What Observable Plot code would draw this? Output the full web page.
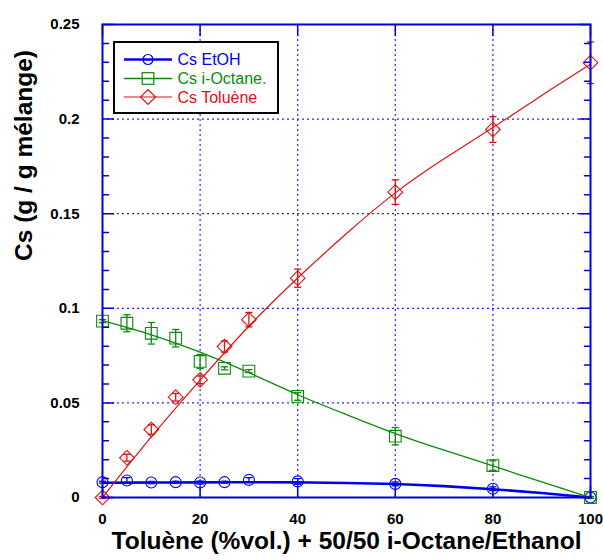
<!DOCTYPE html>
<html><head><meta charset="utf-8">
<script src="https://cdn.jsdelivr.net/npm/d3@7"></script>
<script src="https://cdn.jsdelivr.net/npm/@observablehq/plot@0.6"></script>
<style>
body{margin:0;background:#fff;}
#wrap{position:relative;width:603px;height:560px;font-family:"Liberation Sans",Arial,sans-serif;}
#legend{position:absolute;left:113px;top:41px;}
</style></head><body><div id="wrap"></div>
<script>
// ---- data ----
const xs = [0, 5, 10, 15, 20, 25, 30, 40, 60, 80, 100];
const csEtOH = [0.0081, 0.0090, 0.0079, 0.0081, 0.0079, 0.0081, 0.0093, 0.0085, 0.0072, 0.0046, 0.0];
const csEtOHErr = [0.0005, 0.0015, 0.0006, 0.0005, 0.0008, 0.0005, 0.0012, 0.0015, 0.001, 0.001, 0.0005];
const csOctane = [0.0932, 0.0921, 0.0868, 0.0842, 0.0719, 0.0683, 0.0668, 0.0534, 0.0324, 0.0169, 0.0];
const csOctaneErr = [0.0008, 0.0045, 0.0057, 0.0046, 0.0037, 0.0008, 0.0008, 0.002, 0.0046, 0.0025, 0.0005];
const csToluene = [0.0, 0.021, 0.0359, 0.053, 0.0622, 0.0798, 0.094, 0.1159, 0.1614, 0.1945, 0.2298];
const csTolueneErr = [0.0005, 0.0018, 0.0025, 0.002, 0.002, 0.0029, 0.0038, 0.0048, 0.0065, 0.0068, 0.011];
// fitted curves
const fitX = [0, 10, 20, 30, 40, 50, 60, 70, 80, 90, 100];
const fitEtOH = [0.0078, 0.0079, 0.0080, 0.0081, 0.0080, 0.0077, 0.0071, 0.0060, 0.0044, 0.0024, 0.0];
const fitOctane = [0.0935, 0.0860, 0.0768, 0.0660, 0.0543, 0.0438, 0.0338, 0.0250, 0.0167, 0.0082, 0.0];
const fitToluene = [0.0, 0.0320, 0.0620, 0.0905, 0.1160, 0.1395, 0.1610, 0.1790, 0.1955, 0.2125, 0.2290];
const seriesNames = ["Cs EtOH", "Cs i-Octane.", "Cs Toluène"];
const xTicks = [0, 20, 40, 60, 80, 100];
const xTickLabels = ["0", "20", "40", "60", "80", "100"];
const yTicks = [0, 0.05, 0.1, 0.15, 0.2, 0.25];
const yTickLabels = ["0", "0.05", "0.1", "0.15", "0.2", "0.25"];
const yMinor = [0.01,0.02,0.03,0.04,0.06,0.07,0.08,0.09,0.11,0.12,0.13,0.14,0.16,0.17,0.18,0.19,0.21,0.22,0.23,0.24];
const xTitle = "Toluène (%vol.) + 50/50 i-Octane/Ethanol";
const yTitle = "Cs (g / g mélange)";

// ---- styles ----
const BLUE = "#0000f0", GREEN = "#0a8a0a", RED = "#dd1111";
const FRAME = "#0000dd", GRID = "#2a2ae6";
const colors = [BLUE, GREEN, RED];
const symbols = ["circle", "square", "diamond2"];
const radii = [5.5, 6.6, 6.6];

const series = [
  {vals: csEtOH, errs: csEtOHErr, fit: fitEtOH, w: 2.6},
  {vals: csOctane, errs: csOctaneErr, fit: fitOctane, w: 1.3},
  {vals: csToluene, errs: csTolueneErr, fit: fitToluene, w: 1.2}
];

const capSymbol = {draw(ctx) { ctx.moveTo(-3.6, 0); ctx.lineTo(3.6, 0); }};
const tickShape = {draw(ctx, l) { ctx.moveTo(0, 0); ctx.lineTo(0, -l); }};

const marks = [
  Plot.ruleX(xTicks.slice(1, -1), {stroke: GRID, strokeWidth: 1.2, strokeDasharray: "2,3"}),
  Plot.ruleY(yTicks.slice(1, -1), {stroke: GRID, strokeWidth: 1.2, strokeDasharray: "2,3"})
];
series.forEach((s, k) => {
  const fitRows = fitX.map((x, i) => ({x, y: s.fit[i]}));
  const rows = xs.map((x, i) => ({x, y: s.vals[i], e: s.errs[i]}));
  marks.push(Plot.line(fitRows, {x: "x", y: "y", curve: "natural", stroke: colors[k], strokeWidth: s.w}));
  marks.push(Plot.ruleX(rows, {x: "x", y1: d => d.y - d.e, y2: d => d.y + d.e, stroke: colors[k], strokeWidth: 1.3}));
  marks.push(Plot.dot(rows, {x: "x", y: d => d.y + d.e, symbol: capSymbol, r: 3, stroke: colors[k], strokeWidth: 1.3}));
  marks.push(Plot.dot(rows, {x: "x", y: d => d.y - d.e, symbol: capSymbol, r: 3, stroke: colors[k], strokeWidth: 1.3}));
  marks.push(Plot.dot(rows, {x: "x", y: "y", symbol: symbols[k], r: radii[k], stroke: colors[k], fill: "none", strokeWidth: 1.1}));
});
marks.push(
  Plot.frame({stroke: FRAME, strokeWidth: 2}),
  // inward major ticks on all sides, minor ticks on left/right
  Plot.vector(xTicks, {x: d => d, y: 0, length: 11, rotate: 0, anchor: "start", shape: tickShape, stroke: FRAME, strokeWidth: 1.5}),
  Plot.vector(xTicks, {x: d => d, y: 0.25, length: 11, rotate: 180, anchor: "start", shape: tickShape, stroke: FRAME, strokeWidth: 1.5}),
  Plot.vector(yTicks, {x: 0, y: d => d, length: 11, rotate: 90, anchor: "start", shape: tickShape, stroke: FRAME, strokeWidth: 1.5}),
  Plot.vector(yTicks, {x: 100, y: d => d, length: 11, rotate: 270, anchor: "start", shape: tickShape, stroke: FRAME, strokeWidth: 1.5}),
  Plot.vector(yMinor, {x: 0, y: d => d, length: 6, rotate: 90, anchor: "start", shape: tickShape, stroke: FRAME, strokeWidth: 1.5}),
  Plot.vector(yMinor, {x: 100, y: d => d, length: 6, rotate: 270, anchor: "start", shape: tickShape, stroke: FRAME, strokeWidth: 1.5}),
  Plot.axisX(xTicks, {tickSize: 0, tickPadding: 16, tickFormat: (d, i) => xTickLabels[xTicks.indexOf(d)], fontSize: 15, fontWeight: "bold", fill: "#000", label: null}),
  Plot.axisY(yTicks, {tickSize: 0, tickPadding: 23, tickFormat: d => yTickLabels[yTicks.indexOf(d)], fontSize: 15, fontWeight: "bold", fill: "#000", label: null}),
  Plot.text([yTitle], {frameAnchor: "left", dx: -78, rotate: -90, fontSize: 24.5, fontWeight: "bold", fill: "#000", text: d => d}),
  Plot.text([xTitle], {frameAnchor: "bottom", dy: 51, fontSize: 24.5, fontWeight: "bold", fill: "#000", text: d => d})
);

const chart = Plot.plot({
  width: 603, height: 560,
  marginLeft: 102, marginRight: 13, marginTop: 24, marginBottom: 63,
  x: {domain: [0, 100]},
  y: {domain: [0, 0.25]},
  style: {fontFamily: "Liberation Sans, Arial, sans-serif", background: "#fff", overflow: "visible"},
  marks
});
const wrap = document.getElementById("wrap");
wrap.appendChild(chart);

// ---- legend ----
const NS = "http://www.w3.org/2000/svg";
const lg = document.createElementNS(NS, "svg");
lg.setAttribute("id", "legend");
lg.setAttribute("width", 166); lg.setAttribute("height", 73);
let html = `<rect x="1" y="1" width="164" height="71" fill="#fff" stroke="#000" stroke-width="2"/>`;
const rowY = [18.5, 37.5, 56];
const lw = [2.4, 1.3, 1.1];
seriesNames.forEach((name, k) => {
  const y = rowY[k], c = colors[k];
  html += `<line x1="11" x2="59" y1="${y}" y2="${y}" stroke="${c}" stroke-width="${lw[k]}"/>`;
  if (k === 0) html += `<circle cx="35" cy="${y}" r="5" fill="none" stroke="${c}" stroke-width="1.2"/>`;
  if (k === 1) html += `<rect x="29.2" y="${y - 5.8}" width="11.6" height="11.6" fill="none" stroke="${c}" stroke-width="1.2"/>`;
  if (k === 2) html += `<path d="M35 ${y - 7.5} L42.5 ${y} L35 ${y + 7.5} L27.5 ${y} Z" fill="none" stroke="${c}" stroke-width="1.1"/>`;
  html += `<text x="64.5" y="${y + 5.7}" fill="${c}" font-size="16" font-family="Liberation Sans, Arial, sans-serif">${name}</text>`;
});
lg.innerHTML = html;
wrap.appendChild(lg);
</script>
</body></html>
